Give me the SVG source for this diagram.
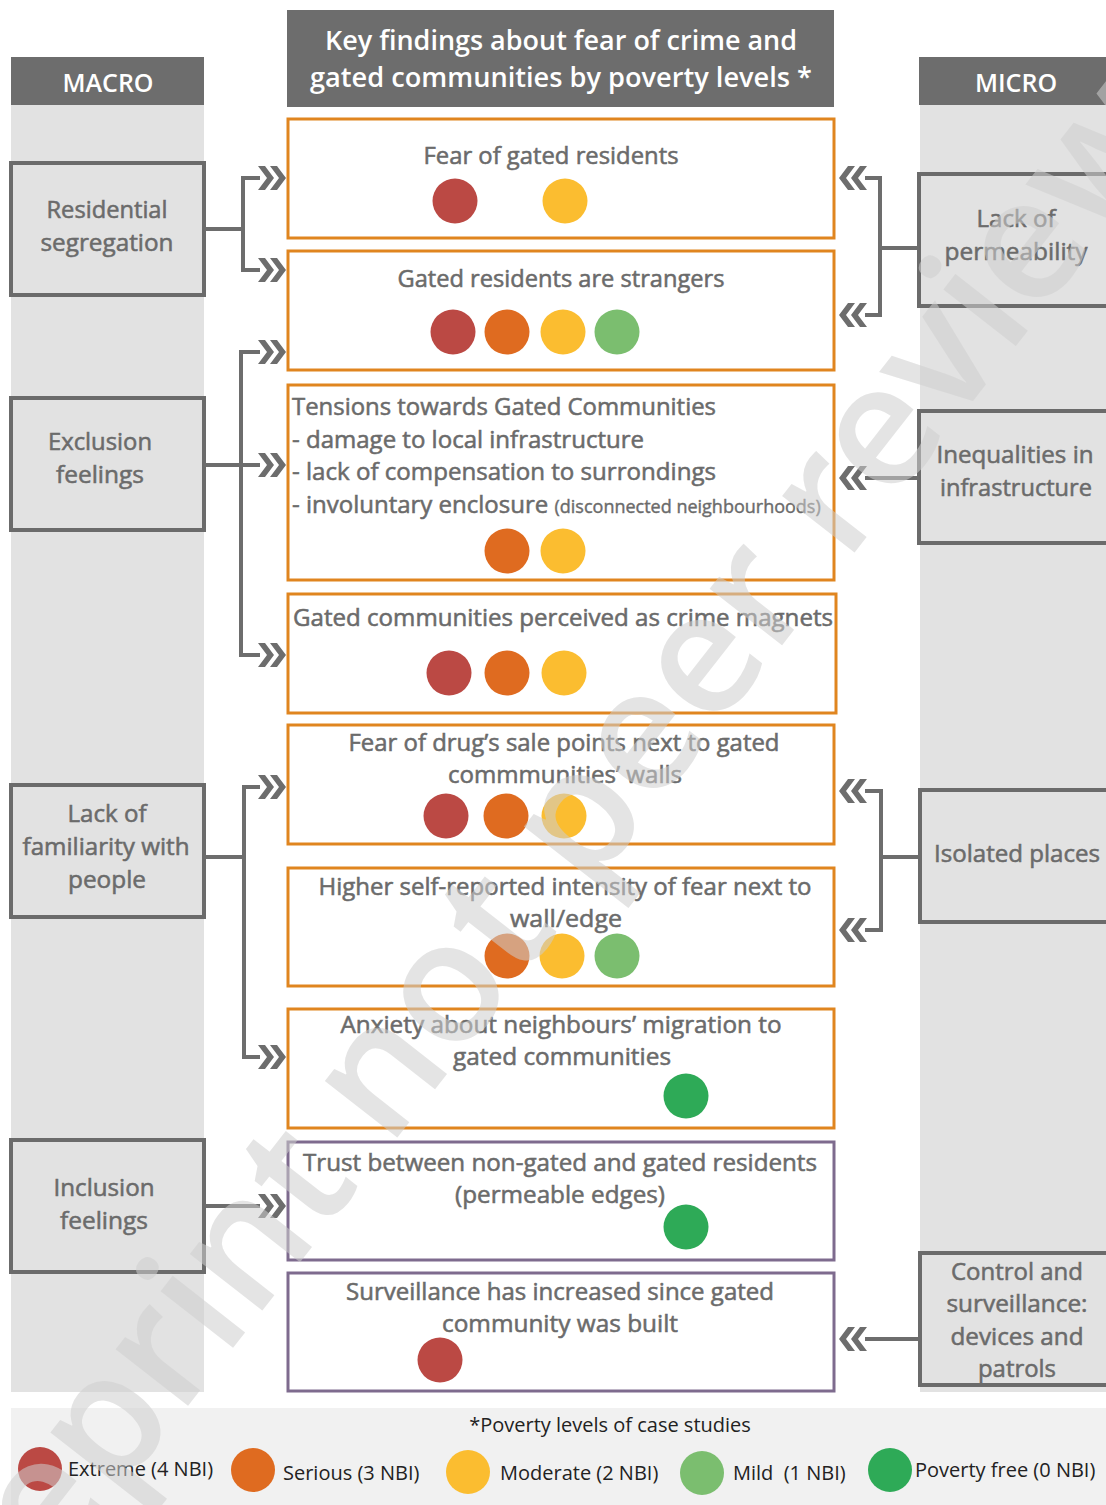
<svg xmlns="http://www.w3.org/2000/svg" xmlns:xlink="http://www.w3.org/1999/xlink" width="1106" height="1505" viewBox="0 0 1106 1505">
<style>
.panel{fill:#e2e2e2}
.hdr{fill:#6d6d6d}
.hdrt{fill:#fff;font-family:"Open Sans","Liberation Sans",sans-serif;font-size:25px;font-weight:600;text-anchor:middle}
.node{fill:#e2e2e2;stroke:#6b6b6b;stroke-width:4}
.nt{fill:#6b6b6b;stroke:#6b6b6b;stroke-width:0.55;font-family:"Open Sans","Liberation Sans",sans-serif;font-size:24px;text-anchor:middle}
.box{fill:#fff;stroke:#e0851f;stroke-width:3}
.boxp{fill:#fff;stroke:#7e6b8e;stroke-width:3}
.bt{fill:#6b6b6b;stroke:#6b6b6b;stroke-width:0.55;font-family:"Open Sans","Liberation Sans",sans-serif;font-size:24px;text-anchor:middle}
.btl{fill:#6b6b6b;stroke:#6b6b6b;stroke-width:0.55;font-family:"Open Sans","Liberation Sans",sans-serif;font-size:24px}
.conn{fill:none;stroke:#6d6d6d;stroke-width:4}
.chev{fill:#6d6d6d}
.c1{fill:#bb4944}.c2{fill:#df6b20}.c3{fill:#fbbd30}.c4{fill:#7bbe6f}.c5{fill:#2eaa57}
.lt{fill:#222;font-family:"Open Sans","Liberation Sans",sans-serif;font-size:20px}
.wm{fill:#cfcfcf;opacity:0.55;font-family:"Open Sans","Liberation Sans",sans-serif;font-size:170px;font-weight:600}
</style>
<defs>
<path id="chevR" d="M-28,-12 L-21,-12 L-12,0 L-21,12 L-28,12 L-19,0 Z M-16,-12 L-9,-12 L0,0 L-9,12 L-16,12 L-7,0 Z"/>
<path id="chevL" d="M28,-12 L21,-12 L12,0 L21,12 L28,12 L19,0 Z M16,-12 L9,-12 L0,0 L9,12 L16,12 L7,0 Z"/>
</defs>
<rect width="1106" height="1505" fill="#fff"/>
<g id="macro-column">
<rect class="panel" x="11" y="105" width="193" height="1287"/>
<rect class="hdr" x="11" y="57" width="193" height="48"/>
<text class="hdrt" x="108" y="92">MACRO</text>
</g>
<g id="micro-column">
<rect class="panel" x="920" y="105" width="186" height="1287"/>
<rect class="hdr" x="919" y="57" width="187" height="48"/>
<text class="hdrt" x="1016" y="92">MICRO</text>
</g>
<g id="title">
<rect class="hdr" x="287" y="10" width="547" height="97"/>
<text class="hdrt" x="561" y="50" style="font-size:27px" textLength="472" lengthAdjust="spacingAndGlyphs">Key findings about fear of crime and</text>
<text class="hdrt" x="561" y="87" style="font-size:27px" textLength="502" lengthAdjust="spacingAndGlyphs">gated communities by poverty levels *</text>
</g>
<g id="node-residential-segregation">
<rect class="node" x="11" y="163" width="193" height="132"/>
<text class="nt" x="107" y="218" textLength="121" lengthAdjust="spacingAndGlyphs">Residential</text>
<text class="nt" x="107" y="251" textLength="133" lengthAdjust="spacingAndGlyphs">segregation</text>
</g>
<g id="node-exclusion-feelings">
<rect class="node" x="11" y="398" width="193" height="132"/>
<text class="nt" x="100" y="450" textLength="104" lengthAdjust="spacingAndGlyphs">Exclusion</text>
<text class="nt" x="100" y="483" textLength="88" lengthAdjust="spacingAndGlyphs">feelings</text>
</g>
<g id="node-lack-familiarity">
<rect class="node" x="11" y="785" width="193" height="132"/>
<text class="nt" x="107" y="822" textLength="79" lengthAdjust="spacingAndGlyphs">Lack of</text>
<text class="nt" x="106" y="855" textLength="167" lengthAdjust="spacingAndGlyphs">familiarity with</text>
<text class="nt" x="107" y="888" textLength="78" lengthAdjust="spacingAndGlyphs">people</text>
</g>
<g id="node-inclusion-feelings">
<rect class="node" x="11" y="1140" width="193" height="132"/>
<text class="nt" x="104" y="1196" textLength="101" lengthAdjust="spacingAndGlyphs">Inclusion</text>
<text class="nt" x="104" y="1229" textLength="88" lengthAdjust="spacingAndGlyphs">feelings</text>
</g>
<g id="node-lack-permeability">
<rect class="node" x="919" y="174" width="195" height="132"/>
<text class="nt" x="1016" y="227" textLength="79" lengthAdjust="spacingAndGlyphs">Lack of</text>
<text class="nt" x="1016" y="260" textLength="143" lengthAdjust="spacingAndGlyphs">permeability</text>
</g>
<g id="node-inequalities">
<rect class="node" x="919" y="411" width="195" height="132"/>
<text class="nt" x="1015" y="463" textLength="157" lengthAdjust="spacingAndGlyphs">Inequalities in</text>
<text class="nt" x="1016" y="496" textLength="152" lengthAdjust="spacingAndGlyphs">infrastructure</text>
</g>
<g id="node-isolated-places">
<rect class="node" x="920" y="790" width="194" height="132"/>
<text class="nt" x="1017" y="862" textLength="166" lengthAdjust="spacingAndGlyphs">Isolated places</text>
</g>
<g id="node-control-surveillance">
<rect class="node" x="920" y="1253" width="194" height="132"/>
<text class="nt" x="1017" y="1280" textLength="132" lengthAdjust="spacingAndGlyphs">Control and</text>
<text class="nt" x="1017" y="1312" textLength="141" lengthAdjust="spacingAndGlyphs">surveillance:</text>
<text class="nt" x="1017" y="1345" textLength="133" lengthAdjust="spacingAndGlyphs">devices and</text>
<text class="nt" x="1017" y="1377" textLength="78" lengthAdjust="spacingAndGlyphs">patrols</text>
</g>
<g id="connectors">
<path class="conn" d="M204,229 H243 M260,178 H243 V270 H260"/>
<path class="conn" d="M204,465 H260 M260,352 H241 V655 H260"/>
<path class="conn" d="M204,857 H244 M260,787 H244 V1057 H260"/>
<path class="conn" d="M204,1206 H260"/>
<path class="conn" d="M919,248 H880 M865,178 H880 V315 H865"/>
<path class="conn" d="M919,478 H865"/>
<path class="conn" d="M920,857 H881 M865,791 H881 V930 H865"/>
<path class="conn" d="M920,1339 H865"/>
<use class="chev" href="#chevR" x="286" y="178"/>
<use class="chev" href="#chevR" x="286" y="270"/>
<use class="chev" href="#chevR" x="286" y="352"/>
<use class="chev" href="#chevR" x="286" y="465"/>
<use class="chev" href="#chevR" x="286" y="655"/>
<use class="chev" href="#chevR" x="286" y="787"/>
<use class="chev" href="#chevR" x="286" y="1057"/>
<use class="chev" href="#chevR" x="286" y="1206"/>
<use class="chev" href="#chevL" x="839" y="178"/>
<use class="chev" href="#chevL" x="839" y="315"/>
<use class="chev" href="#chevL" x="839" y="478"/>
<use class="chev" href="#chevL" x="839" y="791"/>
<use class="chev" href="#chevL" x="839" y="930"/>
<use class="chev" href="#chevL" x="839" y="1339"/>
</g>
<g id="finding-fear-of-gated-residents">
<rect class="box" x="288" y="119" width="546" height="119"/>
<text class="bt" x="551" y="164" textLength="255" lengthAdjust="spacingAndGlyphs">Fear of gated residents</text>
<circle class="c1" cx="455" cy="201" r="22.5"/>
<circle class="c3" cx="565" cy="201" r="22.5"/>
</g>
<g id="finding-strangers">
<rect class="box" x="288" y="251" width="546" height="119"/>
<text class="bt" x="561" y="287" textLength="327" lengthAdjust="spacingAndGlyphs">Gated residents are strangers</text>
<circle class="c1" cx="453" cy="332" r="22.5"/>
<circle class="c2" cx="507" cy="332" r="22.5"/>
<circle class="c3" cx="563" cy="332" r="22.5"/>
<circle class="c4" cx="617" cy="332" r="22.5"/>
</g>
<g id="finding-tensions">
<rect class="box" x="288" y="385" width="546" height="195"/>
<text class="btl" x="292" y="415" textLength="424" lengthAdjust="spacingAndGlyphs">Tensions towards Gated Communities</text>
<text class="btl" x="292" y="448" textLength="352" lengthAdjust="spacingAndGlyphs">- damage to local infrastructure</text>
<text class="btl" x="292" y="480" textLength="424" lengthAdjust="spacingAndGlyphs">- lack of compensation to surrondings</text>
<text class="btl" x="292" y="513">- involuntary enclosure <tspan style="font-size:18px;stroke-width:0.4">(disconnected neighbourhoods)</tspan></text>
<circle class="c2" cx="507" cy="551" r="22.5"/>
<circle class="c3" cx="563" cy="551" r="22.5"/>
</g>
<g id="finding-crime-magnets">
<rect class="box" x="288" y="594" width="548" height="119"/>
<text class="bt" x="563" y="626" textLength="540" lengthAdjust="spacingAndGlyphs">Gated communities perceived as crime magnets</text>
<circle class="c1" cx="449" cy="673" r="22.5"/>
<circle class="c2" cx="507" cy="673" r="22.5"/>
<circle class="c3" cx="564" cy="673" r="22.5"/>
</g>
<g id="finding-drug-sale">
<rect class="box" x="288" y="725" width="546" height="119"/>
<text class="bt" x="564" y="751" textLength="431" lengthAdjust="spacingAndGlyphs">Fear of drug’s sale points next to gated</text>
<text class="bt" x="565" y="783" textLength="234" lengthAdjust="spacingAndGlyphs">commmunities’ walls</text>
<circle class="c1" cx="446" cy="816" r="22.5"/>
<circle class="c2" cx="506" cy="816" r="22.5"/>
<circle class="c3" cx="564" cy="816" r="22.5"/>
</g>
<g id="finding-intensity">
<rect class="box" x="288" y="868" width="546" height="118"/>
<text class="bt" x="565" y="895" textLength="493" lengthAdjust="spacingAndGlyphs">Higher self-reported intensity of fear next to</text>
<text class="bt" x="566" y="927" textLength="112" lengthAdjust="spacingAndGlyphs">wall/edge</text>
<circle class="c2" cx="507" cy="956" r="22.5"/>
<circle class="c3" cx="562" cy="956" r="22.5"/>
<circle class="c4" cx="617" cy="956" r="22.5"/>
</g>
<g id="finding-anxiety">
<rect class="box" x="288" y="1009" width="546" height="119"/>
<text class="bt" x="561" y="1033" textLength="441" lengthAdjust="spacingAndGlyphs">Anxiety about neighbours’ migration to</text>
<text class="bt" x="562" y="1065" textLength="218" lengthAdjust="spacingAndGlyphs">gated communities</text>
<circle class="c5" cx="686" cy="1096" r="22.5"/>
</g>
<g id="finding-trust">
<rect class="boxp" x="288" y="1142" width="546" height="118"/>
<text class="bt" x="560" y="1171" textLength="514" lengthAdjust="spacingAndGlyphs">Trust between non-gated and gated residents</text>
<text class="bt" x="560" y="1203" textLength="210" lengthAdjust="spacingAndGlyphs">(permeable edges)</text>
<circle class="c5" cx="686" cy="1227" r="22.5"/>
</g>
<g id="finding-surveillance">
<rect class="boxp" x="288" y="1273" width="546" height="118"/>
<text class="bt" x="560" y="1300" textLength="428" lengthAdjust="spacingAndGlyphs">Surveillance has increased since gated</text>
<text class="bt" x="560" y="1332" textLength="236" lengthAdjust="spacingAndGlyphs">community was built</text>
<circle class="c1" cx="440" cy="1360" r="22.5"/>
</g>
<g id="legend">
<rect x="11" y="1408" width="1095" height="97" fill="#f1f1f1"/>
<text class="lt" x="610" y="1432" text-anchor="middle">*Poverty levels of case studies</text>
<circle class="c1" cx="40" cy="1469" r="22"/>
<text class="lt" x="68" y="1476">Extreme (4 NBI)</text>
<circle class="c2" cx="253" cy="1470" r="22"/>
<text class="lt" x="283" y="1480">Serious (3 NBI)</text>
<circle class="c3" cx="468" cy="1472" r="22"/>
<text class="lt" x="500" y="1480">Moderate (2 NBI)</text>
<circle class="c4" cx="702" cy="1473" r="22"/>
<text class="lt" x="733" y="1480">Mild&#160; (1 NBI)</text>
<circle class="c5" cx="890" cy="1470" r="22"/>
<text class="lt" x="915" y="1477">Poverty free (0 NBI)</text>
</g>
<text class="wm" x="0" y="0" transform="translate(626,845) rotate(-52)" text-anchor="middle">Preprint not peer reviewed</text>
</svg>
